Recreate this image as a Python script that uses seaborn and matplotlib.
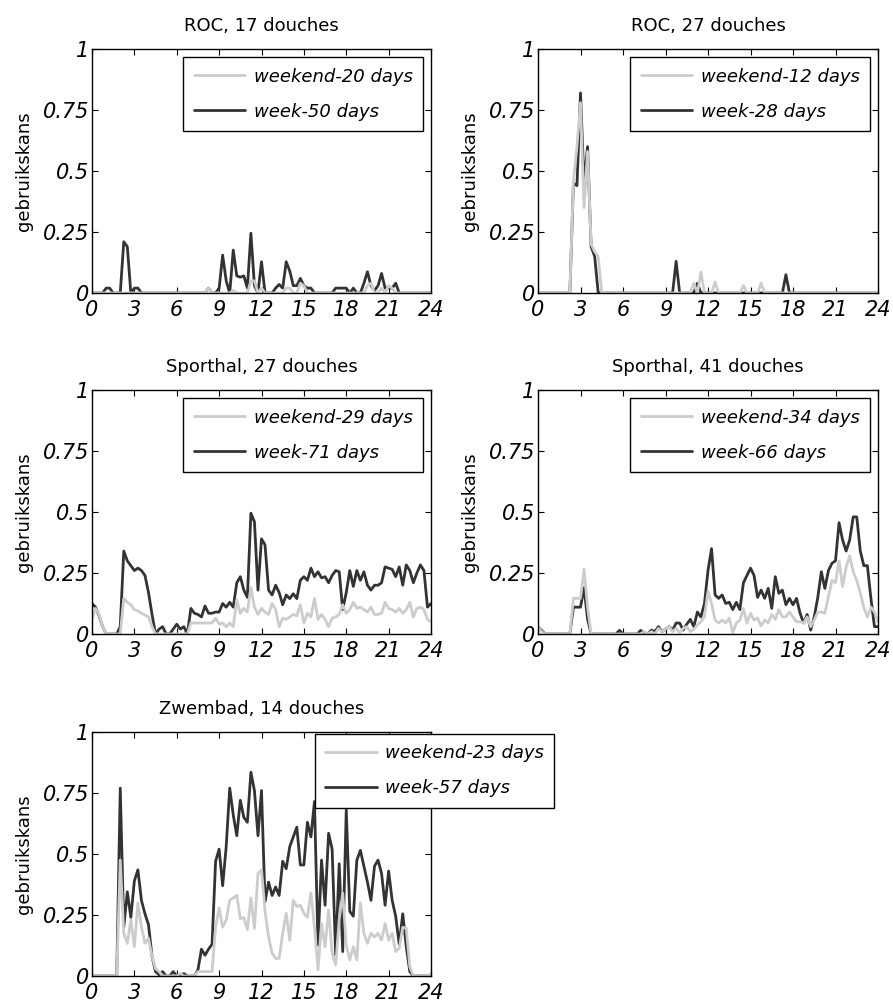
import numpy as np
import pandas as pd
import matplotlib
matplotlib.use("Agg")
import matplotlib.pyplot as plt
import seaborn as sns

# ---------------- data (15-minute resolution, 0..24 h) ----------------
roc17_week = [
    0, 0, 0, 0, 0.02, 0.02, 0, 0,
    0, 0.21, 0.19, 0, 0.02, 0.02, 0, 0,
    0, 0, 0, 0, 0, 0, 0, 0,
    0, 0, 0, 0, 0, 0, 0, 0,
    0, 0.02, 0, 0, 0.02, 0.155, 0.05, 0,
    0.176, 0.07, 0.065, 0.07, 0.02, 0.245, 0.03, 0,
    0.128, 0, 0, 0, 0.02, 0.035, 0.02, 0.128,
    0.09, 0.03, 0.03, 0.06, 0.03, 0.02, 0.02, 0,
    0, 0, 0, 0, 0, 0.02, 0.02, 0.02,
    0.02, 0, 0.02, 0, 0, 0.04, 0.087, 0.03,
    0.01, 0.03, 0.08, 0.02, 0.02, 0.02, 0.04, 0,
    0, 0, 0, 0, 0, 0, 0, 0,
    0]
roc17_weekend = [
    0, 0, 0, 0, 0, 0, 0, 0,
    0, 0, 0, 0, 0, 0, 0, 0,
    0, 0, 0, 0, 0, 0, 0, 0,
    0, 0, 0, 0, 0, 0, 0, 0,
    0, 0.02, 0, 0, 0, 0, 0, 0,
    0.01, 0, 0, 0, 0, 0.05, 0.05, 0,
    0.02, 0, 0, 0, 0, 0, 0, 0.02,
    0.02, 0, 0, 0.04, 0.03, 0, 0, 0,
    0, 0, 0, 0, 0, 0, 0, 0,
    0, 0, 0, 0, 0, 0, 0.03, 0.04,
    0, 0, 0.02, 0, 0.03, 0.02, 0, 0,
    0, 0, 0, 0, 0, 0, 0, 0,
    0]
roc27_week = [
    0, 0, 0, 0, 0, 0, 0, 0,
    0, 0, 0.45, 0.44, 0.82, 0.45, 0.6, 0.19,
    0.15, 0, 0, 0, 0, 0, 0, 0,
    0, 0, 0, 0, 0, 0, 0, 0,
    0, 0, 0, 0, 0, 0, 0, 0.13,
    0, 0, 0, 0, 0, 0.04, 0, 0,
    0, 0, 0, 0, 0, 0, 0, 0,
    0, 0, 0, 0, 0, 0, 0, 0,
    0, 0, 0, 0, 0, 0, 0.075, 0,
    0, 0, 0, 0, 0, 0, 0, 0,
    0, 0, 0, 0, 0, 0, 0, 0,
    0, 0, 0, 0, 0, 0, 0, 0,
    0]
roc27_weekend = [
    0, 0, 0, 0, 0, 0, 0, 0,
    0, 0, 0.46, 0.6, 0.78, 0.35, 0.58, 0.2,
    0.17, 0.15, 0, 0, 0, 0, 0, 0,
    0, 0, 0, 0, 0, 0, 0, 0,
    0, 0, 0, 0, 0, 0, 0, 0,
    0, 0, 0, 0, 0.04, 0, 0.085, 0,
    0, 0, 0.045, 0, 0, 0, 0, 0,
    0, 0, 0.03, 0, 0, 0, 0, 0.04,
    0, 0, 0, 0, 0, 0, 0, 0,
    0, 0, 0, 0, 0, 0, 0, 0,
    0, 0, 0, 0, 0, 0, 0, 0,
    0, 0, 0, 0, 0, 0, 0, 0,
    0]
sport27_week = [
    0.125, 0.11, 0.075, 0.03, 0, 0, 0, 0,
    0.03, 0.34, 0.3, 0.28, 0.26, 0.27, 0.26, 0.24,
    0.17, 0.08, 0, 0.02, 0.03, 0, 0, 0.02,
    0.04, 0.02, 0.03, 0, 0.105, 0.085, 0.08, 0.07,
    0.115, 0.085, 0.085, 0.09, 0.09, 0.125, 0.11, 0.13,
    0.11, 0.21, 0.235, 0.18, 0.15, 0.495, 0.46, 0.18,
    0.39, 0.365, 0.18, 0.16, 0.2, 0.17, 0.12, 0.16,
    0.145, 0.165, 0.145, 0.22, 0.235, 0.22, 0.27, 0.235,
    0.255, 0.23, 0.235, 0.21, 0.24, 0.26, 0.255, 0.1,
    0.17, 0.26, 0.195, 0.26, 0.22, 0.255, 0.2, 0.18,
    0.2, 0.2, 0.21, 0.275, 0.27, 0.265, 0.235, 0.275,
    0.2, 0.283, 0.26, 0.21, 0.25, 0.283, 0.26, 0.11,
    0.125]
sport27_weekend = [
    0.06, 0.105, 0.08, 0.03, 0, 0, 0, 0,
    0, 0.146, 0.13, 0.12, 0.1, 0.095, 0.085, 0.078,
    0.07, 0.03, 0, 0, 0, 0, 0, 0,
    0, 0, 0, 0, 0.045, 0.045, 0.045, 0.045,
    0.045, 0.045, 0.045, 0.065, 0.04, 0.045, 0.03, 0.045,
    0.03, 0.14, 0.085, 0.105, 0.09, 0.19, 0.11, 0.08,
    0.105, 0.09, 0.08, 0.125, 0.1, 0.03, 0.065, 0.06,
    0.07, 0.08, 0.075, 0.12, 0.045, 0.085, 0.07, 0.146,
    0.06, 0.08, 0.06, 0.03, 0.065, 0.07, 0.08, 0.12,
    0.085, 0.1, 0.13, 0.105, 0.11, 0.1, 0.09, 0.11,
    0.08, 0.08, 0.085, 0.13, 0.105, 0.1, 0.09, 0.105,
    0.085, 0.1, 0.13, 0.07, 0.105, 0.11, 0.1, 0.06,
    0.05]
sport41_week = [
    0.03, 0.015, 0, 0, 0, 0, 0, 0,
    0, 0, 0.11, 0.11, 0.11, 0.19, 0.06, 0,
    0, 0, 0, 0, 0, 0, 0, 0.015,
    0, 0, 0, 0, 0, 0.015, 0, 0,
    0.016, 0.01, 0.03, 0.01, 0.02, 0.03, 0.016, 0.045,
    0.045, 0.016, 0.04, 0.06, 0.03, 0.09, 0.07, 0.125,
    0.26, 0.35, 0.16, 0.146, 0.16, 0.125, 0.13, 0.1,
    0.13, 0.1, 0.21, 0.24, 0.27, 0.24, 0.15, 0.18,
    0.146, 0.187, 0.105, 0.235, 0.167, 0.18, 0.12, 0.146,
    0.12, 0.146, 0.085, 0.045, 0.08, 0.016, 0.07, 0.15,
    0.255, 0.187, 0.26, 0.29, 0.3, 0.456, 0.385, 0.34,
    0.385, 0.48, 0.48, 0.34, 0.28, 0.28, 0.146, 0.03,
    0.03]
sport41_weekend = [
    0.03, 0.01, 0, 0, 0, 0, 0, 0,
    0, 0, 0.146, 0.146, 0.146, 0.265, 0.11, 0,
    0, 0, 0, 0, 0, 0, 0, 0,
    0, 0, 0, 0, 0, 0, 0.01, 0,
    0.01, 0, 0.023, 0.01, 0.02, 0.03, 0.01, 0.023,
    0.005, 0.023, 0.03, 0.01, 0.02, 0.037, 0.05, 0.07,
    0.175, 0.125, 0.057, 0.045, 0.057, 0.045, 0.065, 0.005,
    0.045, 0.057, 0.105, 0.045, 0.085, 0.057, 0.065, 0.033,
    0.057, 0.045, 0.08, 0.06, 0.1, 0.07, 0.07, 0.09,
    0.07, 0.05, 0.05, 0.045, 0.07, 0.03, 0.057, 0.09,
    0.09, 0.085, 0.153, 0.22, 0.21, 0.3, 0.195, 0.275,
    0.32, 0.255, 0.22, 0.167, 0.11, 0.07, 0.11, 0.09,
    0.05]
zwem_week = [
    0, 0, 0, 0, 0, 0, 0, 0,
    0.77, 0.2, 0.345, 0.24, 0.39, 0.435, 0.31, 0.255,
    0.21, 0.08, 0.018, 0.005, 0.018, 0, 0, 0.018,
    0, 0, 0.01, 0, 0, 0, 0.025, 0.11,
    0.085, 0.11, 0.13, 0.47, 0.52, 0.37, 0.53, 0.77,
    0.66, 0.575, 0.72, 0.65, 0.63, 0.835, 0.76, 0.575,
    0.76, 0.305, 0.385, 0.33, 0.365, 0.33, 0.47, 0.44,
    0.53, 0.57, 0.61, 0.455, 0.455, 0.63, 0.57, 0.715,
    0.127, 0.475, 0.29, 0.585, 0.52, 0.086, 0.46, 0.1,
    0.68, 0.265, 0.245, 0.475, 0.515, 0.45, 0.385, 0.31,
    0.45, 0.475, 0.42, 0.29, 0.43, 0.31, 0.245, 0.13,
    0.255, 0.12, 0.018, 0, 0, 0, 0, 0,
    0]
zwem_weekend = [
    0, 0, 0, 0, 0, 0, 0, 0,
    0.475, 0.175, 0.134, 0.23, 0.12, 0.3, 0.2, 0.134,
    0.155, 0.08, 0.03, 0.018, 0, 0, 0, 0,
    0, 0.01, 0, 0, 0, 0, 0.018, 0.018,
    0.018, 0.018, 0.018, 0.2, 0.28, 0.2, 0.23, 0.31,
    0.32, 0.33, 0.235, 0.24, 0.19, 0.32, 0.195, 0.42,
    0.435, 0.265, 0.16, 0.093, 0.072, 0.072, 0.175, 0.257,
    0.147, 0.31, 0.285, 0.29, 0.257, 0.24, 0.34, 0.2,
    0.025, 0.215, 0.12, 0.27, 0.093, 0.045, 0.23, 0.34,
    0.127, 0.066, 0.12, 0.066, 0.3, 0.175, 0.134, 0.175,
    0.16, 0.175, 0.147, 0.215, 0.147, 0.175, 0.1, 0.113,
    0.2, 0.195, 0.038, 0, 0, 0, 0, 0,
    0.01]

titles = ["ROC, 17 douches", "ROC, 27 douches", "Sporthal, 27 douches",
          "Sporthal, 41 douches", "Zwembad, 14 douches"]
weekend_labels = ["weekend-20 days", "weekend-12 days", "weekend-29 days",
                  "weekend-34 days", "weekend-23 days"]
week_labels = ["week-50 days", "week-28 days", "week-71 days",
               "week-66 days", "week-57 days"]
x_ticks = [0, 3, 6, 9, 12, 15, 18, 21, 24]
y_ticks = [0, 0.25, 0.5, 0.75, 1]
y_tick_labels = ["0", "0.25", "0.5", "0.75", "1"]

weekend_series = [roc17_weekend, roc27_weekend, sport27_weekend, sport41_weekend, zwem_weekend]
week_series = [roc17_week, roc27_week, sport27_week, sport41_week, zwem_week]

# ---------------- style ----------------
sns.set_style("ticks")
plt.rcParams["font.family"] = ["DejaVu Sans"]
plt.rcParams["text.color"] = "black"
plt.rcParams["axes.labelcolor"] = "black"
plt.rcParams["xtick.color"] = "black"
plt.rcParams["ytick.color"] = "black"

DARK = "#333333"
LIGHT = "#cccccc"
W, H = 893, 1007
fig = plt.figure(figsize=(W / 100, H / 100), dpi=100)

def rect(left, top, right, bottom):
    return [left / W, 1 - bottom / H, (right - left) / W, (bottom - top) / H]

rects = [rect(92, 49, 431, 293), rect(538, 49, 878, 293),
         rect(92, 390, 431, 634), rect(538, 390, 878, 634),
         rect(92, 732, 431, 976)]

hours = np.arange(len(roc17_week)) * 0.25

legend_kw = dict(frameon=True, fancybox=False, edgecolor="black", framealpha=1,
                 prop={"style": "italic", "size": 13},
                 handlelength=2.85, handletextpad=0.45, borderpad=0.58,
                 labelspacing=0.94)

for k in range(5):
    ax = fig.add_axes(rects[k])
    n = len(hours)
    df = pd.DataFrame({
        "uur": np.concatenate([hours, hours]),
        "kans": list(week_series[k]) + list(weekend_series[k]),
        "serie": [week_labels[k]] * n + [weekend_labels[k]] * n,
    })
    sns.lineplot(data=df, x="uur", y="kans", hue="serie",
                 hue_order=[week_labels[k], weekend_labels[k]],
                 palette={week_labels[k]: DARK, weekend_labels[k]: LIGHT},
                 estimator=None, sort=False, linewidth=2.0, ax=ax, legend=False)
    ax.set_xlim(0, 24)
    ax.set_ylim(0, 1)
    ax.set_xticks(x_ticks)
    ax.set_xticklabels([str(t) for t in x_ticks], fontsize=15, fontstyle="italic")
    ax.set_yticks(y_ticks)
    ax.set_yticklabels(y_tick_labels, fontsize=15, fontstyle="italic")
    ax.tick_params(direction="in", top=True, right=True, length=4, width=0.8,
                   colors="black")
    ax.tick_params(axis="y", pad=2)
    ax.tick_params(axis="x", pad=5)
    for s in ax.spines.values():
        s.set_visible(True)
        s.set_color("black")
        s.set_linewidth(1.0)
    ax.set_xlabel("")
    ax.set_ylabel("gebruikskans", fontsize=13, labelpad=7, color="black")
    ax.set_title(titles[k], fontsize=13, pad=13, color="black")

    lines = ax.get_lines()
    handles = [lines[1], lines[0]]
    labels = [weekend_labels[k], week_labels[k]]
    if k < 4:
        leg = ax.legend(handles, labels, loc="upper right", bbox_to_anchor=(1, 1),
                        borderaxespad=0.45, **legend_kw)
    else:
        leg = ax.legend(handles, labels, loc="upper left",
                        bbox_to_anchor=(315 / W, 1 - 734 / H),
                        bbox_transform=fig.transFigure, borderaxespad=0,
                        **legend_kw)
    leg.get_frame().set_linewidth(1.0)
    leg.set_zorder(5)

fig.savefig("out.png", dpi=100)
